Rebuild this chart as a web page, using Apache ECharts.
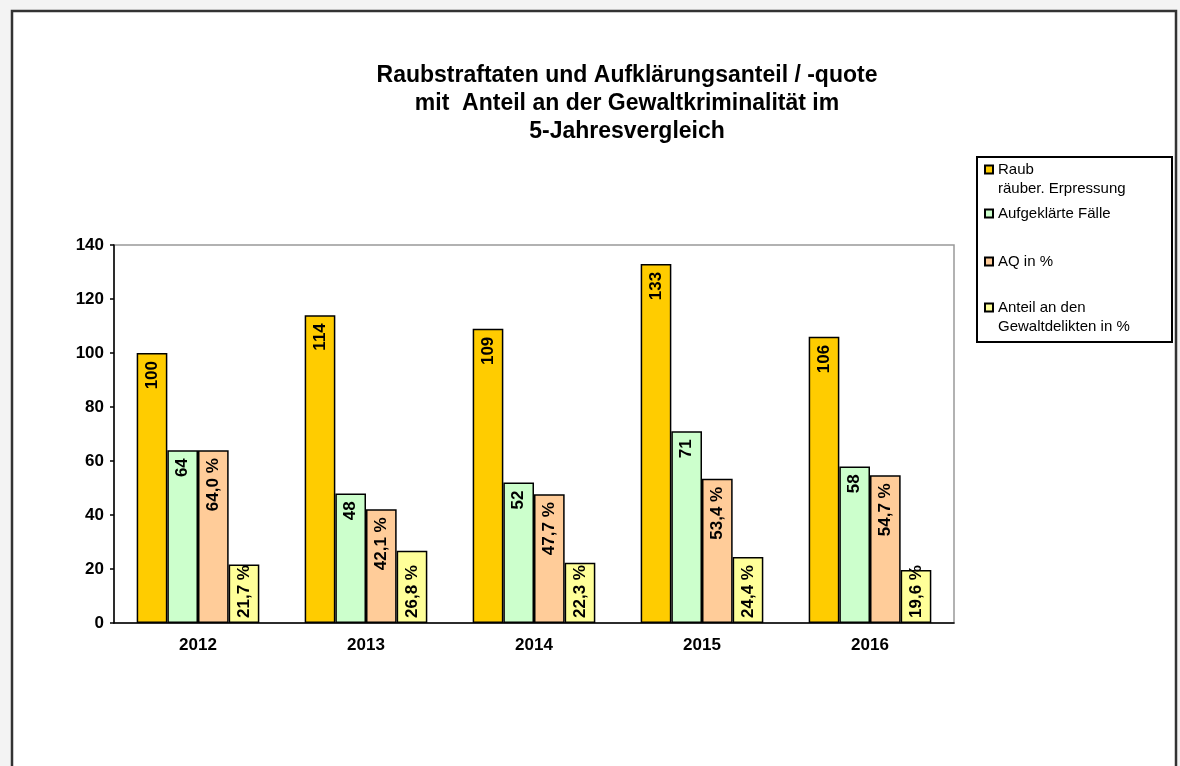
<!DOCTYPE html>
<html>
<head>
<meta charset="utf-8">
<title>Raubstraftaten</title>
<script src="https://cdn.jsdelivr.net/npm/echarts@6/dist/echarts.min.js"></script>
<style>
    html, body { margin: 0; padding: 0; background: #f3f3f3; }
    #raub_chart { width: 1180px; height: 766px; }
</style>
</head>
<body>
<div id="raub_chart"></div>
<script>

// Data
// ------------------------------

var years = ['2012', '2013', '2014', '2015', '2016'];
var raub = [100, 114, 109, 133, 106];
var aufgeklaert = [64, 48, 52, 71, 58];
var aqProzent = [64.0, 42.1, 47.7, 53.4, 54.7];
var anteilGewalt = [21.7, 26.8, 22.3, 24.4, 19.6];
var yTicks = [0, 20, 40, 60, 80, 100, 120, 140];

var seriesNames = [
    'Raub\nräuber. Erpressung',
    'Aufgeklärte Fälle',
    'AQ in %',
    'Anteil an den\nGewaltdelikten in %'
];


// Setup chart
// ------------------------------

var RaubChart = function() {

    var _raubChart = function() {
        if (typeof echarts == 'undefined') {
            console.warn('Warning - echarts.min.js is not loaded.');
            return;
        }

        var chart_element = document.getElementById('raub_chart');
        if (!chart_element) return;

        var chart = echarts.init(chart_element);

        var fontFamily = '"Liberation Sans", Arial, sans-serif';

        var pct = function(p) {
            return p.value.toFixed(1).replace('.', ',') + ' %';
        };

        // Label inside the top of the bar, reading bottom to top
        var topLabel = function(formatter) {
            return {
                show: true,
                position: 'insideTop',
                rotate: 90,
                align: 'right',
                verticalAlign: 'middle',
                distance: 8,
                color: '#000',
                fontFamily: fontFamily,
                fontWeight: 'bold',
                fontSize: 17,
                formatter: formatter
            };
        };

        var barStyle = function(color) {
            return {
                color: color,
                borderColor: '#000',
                borderWidth: 1.5
            };
        };

        // Legend entry, one per item so spacing can follow the picture.
        // Two-line names get a blank first line so the marker sits on line one.
        var legendItem = function(name, top, twoLines) {
            return {
                data: [name],
                orient: 'vertical',
                left: 984,
                top: top,
                padding: 0,
                itemWidth: 8,
                itemHeight: 8,
                icon: 'rect',
                selectedMode: false,
                formatter: function(n) {
                    return twoLines ? '\n' + n : n;
                },
                textStyle: {
                    fontFamily: fontFamily,
                    fontSize: 15,
                    color: '#000',
                    lineHeight: 19
                }
            };
        };

        chart.setOption({
            animation: false,
            backgroundColor: '#f3f3f3',

            textStyle: {
                fontFamily: fontFamily
            },

            // Page frame and legend box
            graphic: [
                {
                    type: 'rect',
                    z: -10,
                    shape: { x: 12, y: 11, width: 1164, height: 770 },
                    style: { fill: '#fff', stroke: '#333', lineWidth: 2.5 }
                },
                {
                    type: 'rect',
                    z: -5,
                    shape: { x: 977, y: 157, width: 195, height: 185 },
                    style: { fill: '#fff', stroke: '#000', lineWidth: 2 }
                }
            ],

            title: {
                text: 'Raubstraftaten und Aufklärungsanteil / -quote\nmit  Anteil an der Gewaltkriminalität im\n5-Jahresvergleich',
                left: 627,
                top: 62,
                padding: 0,
                textAlign: 'center',
                textStyle: {
                    fontFamily: fontFamily,
                    fontSize: 23,
                    fontWeight: 'bold',
                    color: '#000',
                    lineHeight: 28
                }
            },

            legend: [
                legendItem(seriesNames[0], 141, true),
                legendItem(seriesNames[1], 204, false),
                legendItem(seriesNames[2], 252, false),
                legendItem(seriesNames[3], 279, true)
            ],

            grid: {
                left: 114,
                right: 226,
                top: 245,
                bottom: 143,
                show: true,
                backgroundColor: '#fff',
                borderColor: '#999',
                borderWidth: 1.5
            },

            xAxis: {
                type: 'category',
                data: years,
                axisLine: { lineStyle: { color: '#000', width: 1.5 } },
                axisTick: { length: 5, lineStyle: { color: '#000', width: 1.5 } },
                axisLabel: {
                    color: '#000',
                    fontSize: 17,
                    fontWeight: 'bold',
                    margin: 14
                },
                splitLine: { show: false }
            },

            yAxis: {
                type: 'value',
                min: yTicks[0],
                max: yTicks[yTicks.length - 1],
                interval: yTicks[1] - yTicks[0],
                axisLine: { show: true, lineStyle: { color: '#000', width: 1.5 } },
                axisTick: { show: true, length: 4, lineStyle: { color: '#000', width: 1.5 } },
                axisLabel: {
                    color: '#000',
                    fontSize: 17,
                    fontWeight: 'bold',
                    margin: 10
                },
                splitLine: { show: false }
            },

            series: [
                {
                    name: seriesNames[0],
                    type: 'bar',
                    data: raub,
                    barGap: '0%',
                    barCategoryGap: '27%',
                    itemStyle: barStyle('#ffcc00'),
                    label: topLabel('{c}')
                },
                {
                    name: seriesNames[1],
                    type: 'bar',
                    data: aufgeklaert,
                    itemStyle: barStyle('#ccffcc'),
                    label: topLabel('{c}')
                },
                {
                    name: seriesNames[2],
                    type: 'bar',
                    data: aqProzent,
                    itemStyle: barStyle('#ffcc99'),
                    label: topLabel(pct)
                },
                {
                    name: seriesNames[3],
                    type: 'bar',
                    data: anteilGewalt,
                    itemStyle: barStyle('#ffff99'),
                    label: {
                        show: true,
                        position: 'insideBottom',
                        rotate: 90,
                        align: 'left',
                        verticalAlign: 'middle',
                        distance: 5,
                        color: '#000',
                        fontFamily: fontFamily,
                        fontWeight: 'bold',
                        fontSize: 17,
                        formatter: pct
                    }
                }
            ]
        });

        window.addEventListener('resize', function() {
            chart.resize();
        });
    };

    return {
        init: function() {
            _raubChart();
        }
    }
}();


document.addEventListener('DOMContentLoaded', function() {
    RaubChart.init();
});
</script>
</body>
</html>
